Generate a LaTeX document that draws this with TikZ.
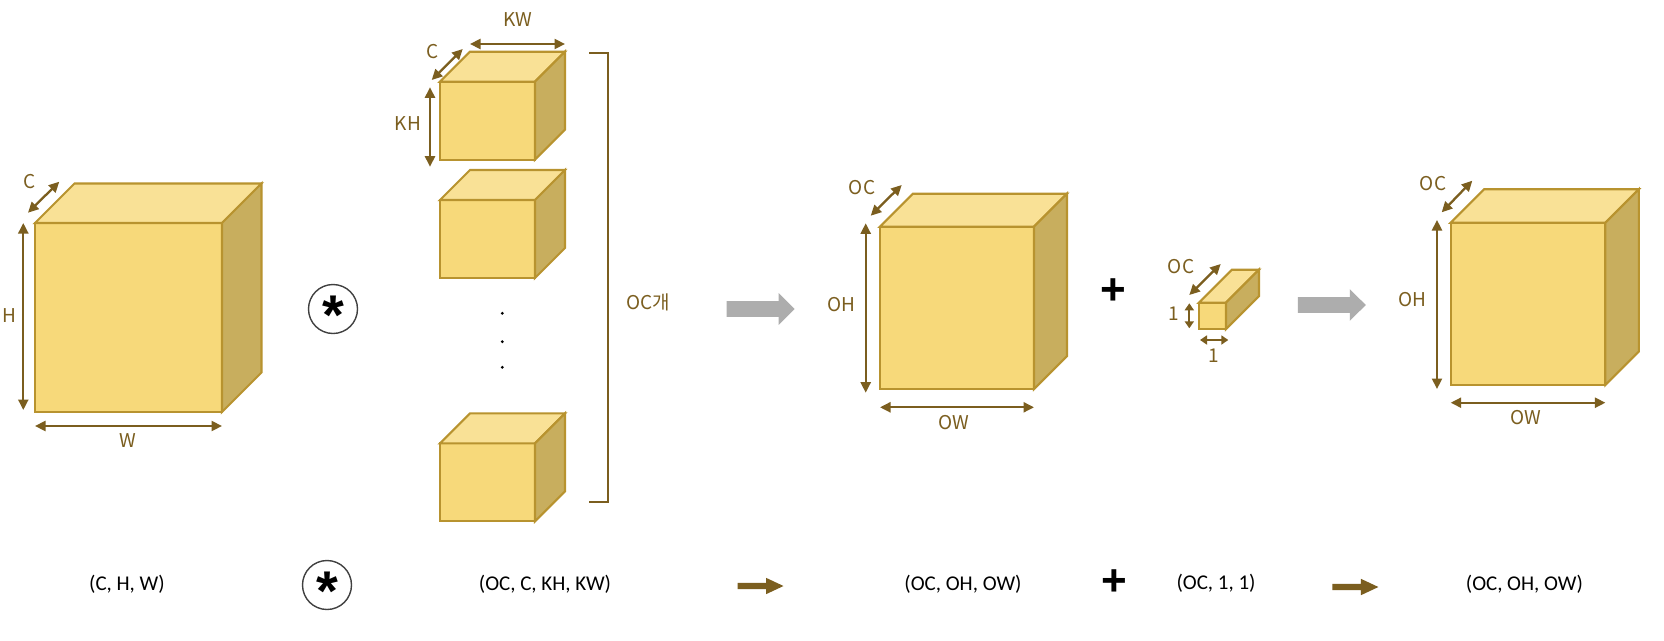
\documentclass[tikz,border=0pt]{standalone}
\usepackage{fontspec}
\setmainfont{Carlito}
\newfontfamily\kr{Noto Sans CJK KR}
\newfontfamily\arialf{Liberation Sans}
\usetikzlibrary{arrows.meta}
\definecolor{frontc}{HTML}{F7D97A}
\definecolor{topc}{HTML}{F9E196}
\definecolor{sidec}{HTML}{C8AE5E}
\definecolor{edgec}{HTML}{B8932F}
\definecolor{dimc}{HTML}{7B5E1F}
\definecolor{grayarr}{HTML}{ADADAD}
\newcommand\mycube[5]{%
  \draw[cubeedge,fill=frontc] (#1,#2) rectangle ++(#3,#4);
  \draw[cubeedge,fill=topc] (#1,#2) -- ++(#5,-#5) -- ++(#3,0) -- ++(-#5,#5) -- cycle;
  \draw[cubeedge,fill=sidec] (#1+#3,#2) -- ++(#5,-#5) -- ++(0,#4) -- ++(-#5,#5) -- cycle;
}
\newcommand\grayarrow[2]{% x-left, y-center
  \fill[grayarr] (#1,#2-7.8) -- ++(52,0) -- ++(0,-8) -- ++(16,15.8) -- ++(-16,15.8) -- ++(0,-8) -- ++(-52,0) -- cycle;
}
\newcommand\brownarrow[2]{% x-left, y-center
  \fill[dimc] (#1,#2-3.2) -- ++(28.5,0) -- ++(0,-5) -- ++(17.5,8.2) -- ++(-17.5,8.2) -- ++(0,-5) -- ++(-28.5,0) -- cycle;
}
\tikzset{
  cubeedge/.style={draw=edgec, line width=2.1pt, line join=miter},
  dimarrow/.style={dimc, line width=2.3pt, {Triangle[length=10.5pt,width=10pt]}-{Triangle[length=10.5pt,width=10pt]}},
  smallarrow/.style={dimc, line width=2.3pt, {Triangle[length=7pt,width=9pt]}-{Triangle[length=7pt,width=9pt]}},
  lbl/.style={text=dimc, font=\kr\fontsize{19}{22}\selectfont, inner sep=0pt},
  shapelbl/.style={text=black, font=\fontsize{21}{24}\selectfont, inner sep=0pt},
  opsign/.style={text=black, font=\arialf\bfseries\fontsize{44}{44}\selectfont, inner sep=0pt},
  starsign/.style={text=black, font=\arialf\bfseries\fontsize{56}{56}\selectfont, inner sep=0pt},
  opcircle/.style={draw=black!75, line width=1.4pt, circle, minimum size=49pt, inner sep=0pt},
}
\begin{document}
\begin{tikzpicture}[x=1pt,y=-1pt]
\useasboundingbox[fill=white] (0,0) rectangle (1664,640);

% ---- input cube
\mycube{35}{223}{187}{189}{39.5}
\draw[dimarrow] (28,212.7) -- (59.3,181.7);
\node[lbl] (lc) at (30,182) {C};
\draw[dimarrow] (23.3,223) -- (23.3,410);
\node[lbl] (lh) at (9.3,316) {H};
\draw[dimarrow] (35,426) -- (222,426);
\node[lbl] (lw) at (128,441) {W};

% ---- convolution sign
\node[opcircle] (conv) at (333,309) {};
\node[starsign] at ([yshift=-6pt]conv.center) {*};

% ---- kernels
\mycube{440}{81.7}{95}{78}{30}
\mycube{440}{200}{95}{78}{30}
\mycube{440}{443.3}{95}{78}{30}
\draw[dimarrow] (431.7,80) -- (462.7,49);
\node[lbl] (kc) at (433,52) {C};
\draw[dimarrow] (430,87.3) -- (430,166.7);
\node[lbl] (kh) at (408,124) {KH};
\draw[dimarrow] (470,44) -- (565,44);
\node[lbl] (kw) at (518,20) {KW};
\fill (502.3,313.3) circle (1.6pt);
\fill (502.3,341.7) circle (1.6pt);
\fill (502.3,367.3) circle (1.6pt);
\coordinate (bt) at (589,52.7);
\coordinate (bb) at (589,502.3);
\draw[dimc, line width=2pt] (bt) -- (608.3,52.7) -- (608.3,502.3) -- (bb);
\node[lbl] (occount) at (648,302) {OC개};

% ---- gray arrow 1
\grayarrow{726.7}{309}

% ---- output cube
\mycube{880}{226.7}{154}{162.3}{33}
\draw[dimarrow] (870.7,215.7) -- (901.7,185);
\node[lbl] (oc1) at (862,188) {OC};
\draw[dimarrow] (865.7,223.3) -- (865.7,392.7);
\node[lbl] (oh1) at (841,305) {OH};
\draw[dimarrow] (880,407.3) -- (1034,407.3);
\node[lbl] (ow1) at (954,423) {OW};

% ---- plus
\node[opsign] (plus1) at (1113,292) {+};

% ---- bias
\mycube{1199}{302.7}{27}{26.3}{33}
\draw[dimarrow] (1189.3,295) -- (1220.7,264);
\node[lbl] (oc2) at (1181,267) {OC};
\draw[smallarrow] (1189.3,303.3) -- (1189.3,328.3);
\node[lbl] (one1) at (1174,314) {1};
\draw[smallarrow] (1200,340) -- (1228.3,340);
\node[lbl] (one2) at (1214,356) {1};

% ---- gray arrow 2
\grayarrow{1297.8}{305}

% ---- result cube
\mycube{1450.7}{222.7}{154.7}{162.3}{33.5}
\draw[dimarrow] (1441.7,212.3) -- (1472.3,180.7);
\node[lbl] (oc3) at (1433,184) {OC};
\draw[dimarrow] (1437,220) -- (1437,389);
\node[lbl] (oh3) at (1412,300) {OH};
\draw[dimarrow] (1450.7,402.7) -- (1605.4,402.7);
\node[lbl] (ow3) at (1525.5,418) {OW};

% ---- bottom row
\node[shapelbl] (s1) at (127,584) {(C, H, W)};
\node[opcircle] (conv2) at (327,585) {};
\node[starsign] at ([yshift=-6pt]conv2.center) {*};
\node[shapelbl] (s2) at (545,584) {(OC, C, KH, KW)};
\brownarrow{737.5}{586}
\node[shapelbl] (s3) at (963,584) {(OC, OH, OW)};
\node[opsign] (plus2) at (1114,583) {+};
\node[shapelbl] (s4) at (1216,583) {(OC, 1, 1)};
\brownarrow{1332.4}{587}
\node[shapelbl] (s5) at (1524.4,584) {(OC, OH, OW)};
\end{tikzpicture}
\end{document}
